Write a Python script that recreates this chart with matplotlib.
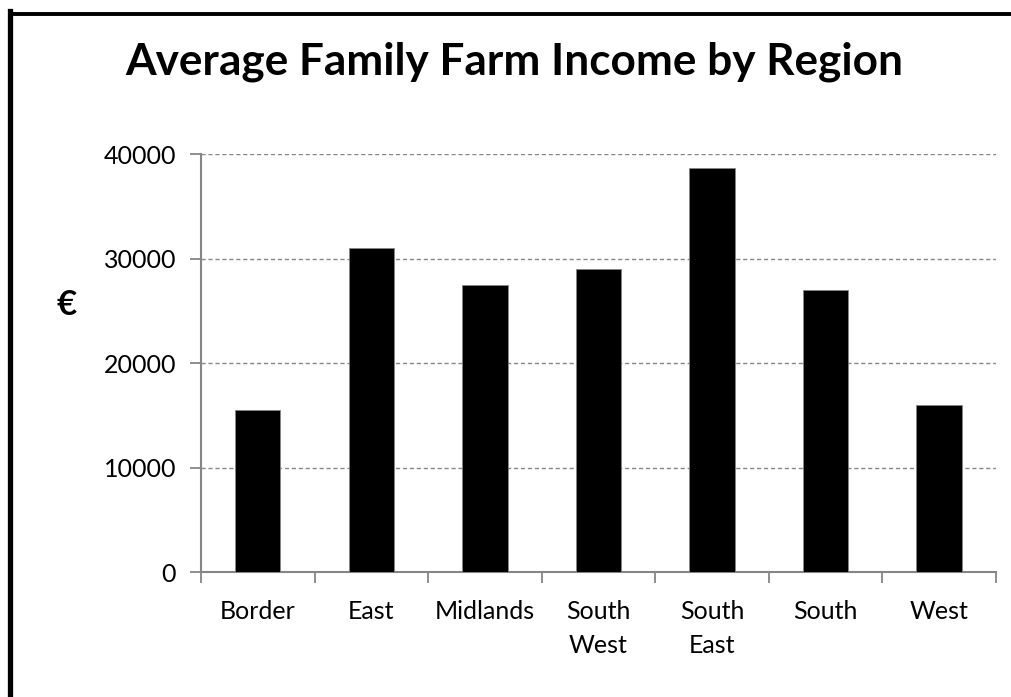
import matplotlib
matplotlib.use('Agg')
import matplotlib.pyplot as plt
from matplotlib.lines import Line2D
import numpy as np

# Data
regions = ['Border', 'East', 'Midlands', 'South\nWest', 'South\nEast', 'South', 'West']
income = [15500, 31000, 27500, 29000, 38700, 27000, 16000]
y_ticks = [0, 10000, 20000, 30000, 40000]

plt.rcParams['font.family'] = ['Lato', 'DejaVu Sans']
grey = '#868686'

fig = plt.figure(figsize=(10.11, 6.97), dpi=100)
ax = fig.add_axes([0.1988, 0.1793, 0.7862, 0.5997])

x = np.arange(len(regions))
ax.bar(x, income, width=0.4, color='black', edgecolor=grey, linewidth=0.6, zorder=3)

ax.set_xlim(-0.5, len(regions) - 0.5)
ax.set_ylim(0, 40000)
ax.set_yticks(y_ticks)
ax.set_yticklabels([str(v) for v in y_ticks], fontsize=18)
ax.yaxis.grid(True, linestyle=(0, (3, 2)), color=grey, linewidth=1.0, zorder=0)

# category labels centered, tick marks at category boundaries
ax.set_xticks(x)
ax.set_xticklabels(regions, fontsize=18, linespacing=1.6)
ax.tick_params(axis='x', length=0, pad=20)
ax.set_xticks(np.arange(-0.5, len(regions)), minor=True)
ax.tick_params(axis='x', which='minor', length=8, color=grey, width=1.3)
ax.tick_params(axis='y', length=8, color=grey, width=1.3, pad=10)

for side in ['top', 'right']:
    ax.spines[side].set_visible(False)
for side in ['left', 'bottom']:
    ax.spines[side].set_color(grey)
    ax.spines[side].set_linewidth(1.5)

fig.text(0.509, 1 - 75 / 697, 'Average Family Farm Income by Region', ha='center', va='baseline',
         fontsize=31.8, fontweight='bold')
fig.text(0.066, 0.563, '€', ha='center', va='center', fontsize=25, fontweight='bold')

# frame: left and top border lines
W, H = 1011, 697
fig.add_artist(Line2D([9.5 / W, 9.5 / W], [0, 1 - 11 / H], color='black', linewidth=3.8,
                      transform=fig.transFigure, solid_capstyle='projecting'))
fig.add_artist(Line2D([9.5 / W, 1], [1 - 13.5 / H, 1 - 13.5 / H], color='black', linewidth=2.8,
                      transform=fig.transFigure))

fig.savefig('out.png', dpi=100)
